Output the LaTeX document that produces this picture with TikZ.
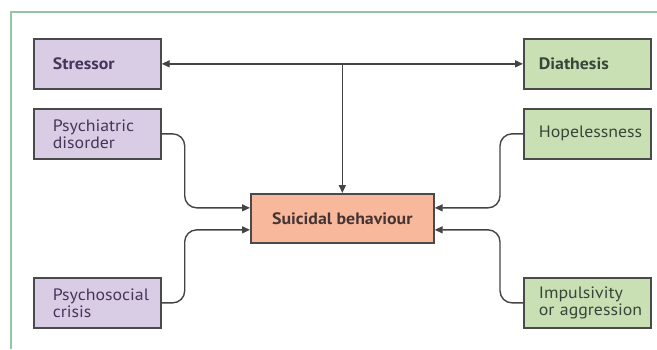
\documentclass[tikz,border=0pt]{standalone}
\usepackage{fontspec}
\setmainfont[FakeStretch=1.08]{PT Sans}
\usetikzlibrary{arrows.meta,calc}
\definecolor{purpfill}{HTML}{D9CDE6}
\definecolor{greenfill}{HTML}{C8E0B3}
\definecolor{salmonfill}{HTML}{F8B89C}
\definecolor{boxline}{HTML}{4A4A4A}
\definecolor{linecol}{HTML}{444444}
\definecolor{framecol}{HTML}{93C4A5}
\definecolor{purptext}{HTML}{46355A}
\definecolor{greentext}{HTML}{38463A}
\definecolor{salmontext}{HTML}{443434}
\begin{document}
\begin{tikzpicture}[x=1pt,y=-1pt,
  boxfont/.style={font=\fontsize{16.5}{17}\selectfont},
  box/.style={draw=boxline, line width=1.7pt, anchor=north west,
    minimum width=127pt, minimum height=50pt, inner ysep=0pt,
    align=left, boxfont},
  leftbox/.style={box, fill=purpfill, text=purptext, inner xsep=19pt, text width=89pt},
  rightbox/.style={box, fill=greenfill, text=greentext, inner xsep=15pt, text width=97pt},
  conn/.style={draw=linecol, line width=1.4pt, -{Triangle[length=8pt,width=7pt]}},
  curved/.style={conn, rounded corners=12pt}]
\useasboundingbox (0,0) rectangle (657,349);
\fill[white] (0,0) rectangle (657,349);
\draw[framecol, line width=2pt] (11,349) -- (11,12) -- (657,12);

\node[leftbox, font=\fontsize{16.5}{17}\selectfont\bfseries] (stressor) at (33,38) {Stressor};
\node[leftbox] (psych) at (33,108) {Psychiatric\\disorder};
\node[leftbox] (crisis) at (33,277) {Psychosocial\\crisis};
\node[rightbox, font=\fontsize{16.5}{17}\selectfont\bfseries] (diathesis) at (523,38) {Diathesis};
\node[rightbox] (hope) at (523,108) {\mbox{Hopelessness}};
\node[rightbox] (impuls) at (523,277) {Impulsivity\\\mbox{or aggression}};
\node[draw=boxline, line width=1.7pt, fill=salmonfill, text=salmontext,
  anchor=north west, minimum width=183pt, minimum height=49pt, inner sep=0pt,
  font=\fontsize{16.5}{17}\selectfont\bfseries] (sb) at (250,193) {Suicidal behaviour};

\coordinate (j) at (stressor.east -| sb.north);
\draw[draw=linecol, line width=1.4pt, {Triangle[length=8pt,width=7pt]}-{Triangle[length=8pt,width=7pt]}] (stressor.east) -- (diathesis.west);
\draw[conn] (j) -- (sb.north);

\draw[curved] (psych.east) -- ++(23,0) |- ([yshift=10.5pt]sb.west);
\draw[curved] (crisis.east) -- ++(23,0) |- ([yshift=-11.5pt]sb.west);
\draw[curved] (hope.west) -- ++(-23,0) |- ([yshift=10.5pt]sb.east);
\draw[curved] (impuls.west) -- ++(-23,0) |- ([yshift=-11.5pt]sb.east);
\end{tikzpicture}
\end{document}
